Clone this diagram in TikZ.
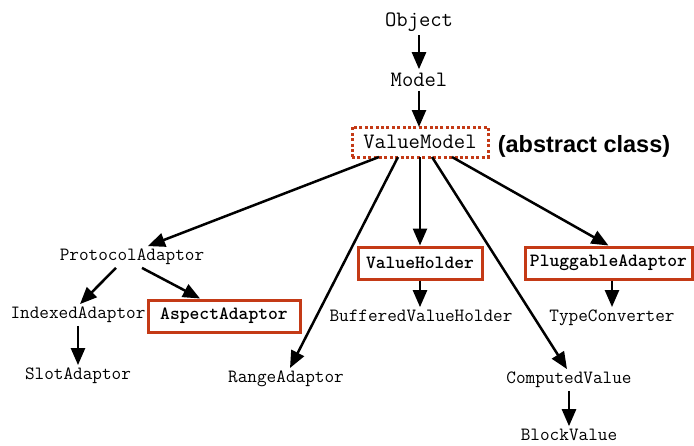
\documentclass[tikz,border=0pt]{standalone}
\usepackage{fontspec}
\usepackage{xcolor}
\usepackage{tikz}
\usetikzlibrary{arrows.meta, positioning}
\newfontfamily\labelsans{Liberation Sans}
\definecolor{boxred}{RGB}{196,58,22}

\begin{document}
\begin{tikzpicture}[
    x=1pt, y=-1pt,
    cls/.style={font=\ttfamily\fontsize{18.7}{20}\selectfont, inner sep=0pt, outer sep=3pt},
    topcls/.style={font=\ttfamily\fontsize{22}{24}\selectfont, inner sep=0pt, outer sep=4pt},
    hlbox/.style={cls, font=\ttfamily\bfseries\fontsize{18.7}{20}\selectfont, draw=boxred, line width=3pt, outer sep=1.5pt, minimum height=32pt},
    arrow/.style={-{Triangle[length=17pt,width=14pt]}, line width=2.5pt}
]
\useasboundingbox (0,0) rectangle (694,445);

\node[topcls] (object) at (419,22) {Object};
\node[topcls] (model) at (419,80) {Model};
\node[topcls, draw=boxred, line width=3pt, dash pattern=on 3pt off 2.4pt, minimum width=136pt, minimum height=30pt, outer sep=0pt] (valuemodel) at (420,142) {ValueModel};
\node[font=\labelsans\bfseries\fontsize{23.5}{26}\selectfont, inner sep=0pt] (abstract) at (584,146) {(abstract class)};

\node[cls] (protocol) at (132,257) {ProtocolAdaptor};
\node[cls] (indexed) at (78,315) {IndexedAdaptor};
\node[hlbox, minimum width=152pt] (aspect) at (224,316) {AspectAdaptor};
\node[cls] (slot) at (78,376) {SlotAdaptor};
\node[cls] (range) at (286,379) {RangeAdaptor};
\node[hlbox, minimum width=124pt] (valueholder) at (420,263) {ValueHolder};
\node[hlbox, minimum width=167pt] (pluggable) at (608.5,263) {PluggableAdaptor};
\node[cls] (buffered) at (421,316) {BufferedValueHolder};
\node[cls] (typeconv) at (612,318) {TypeConverter};
\node[cls] (computed) at (569,380) {ComputedValue};
\node[cls] (block) at (569,435) {BlockValue};

\draw[arrow] (object) -- (model);
\draw[arrow] (model) -- (model |- valuemodel.north);
\draw[arrow] ([xshift=-41pt]valuemodel.south) -- ([xshift=16pt]protocol.north);
\draw[arrow] ([xshift=-22pt]valuemodel.south) -- ([xshift=4pt]range.north);
\draw[arrow] (valuemodel) -- (valueholder);
\draw[arrow] ([xshift=12pt]valuemodel.south) -- ([xshift=-2pt]computed.north);
\draw[arrow] ([xshift=32pt]valuemodel.south) -- (pluggable.north);
\draw[arrow] ([xshift=-16pt]protocol.south) -- ([xshift=2pt]indexed.north);
\draw[arrow] ([xshift=10pt]protocol.south) -- ([xshift=-24pt]aspect.north);
\draw[arrow] (indexed) -- (slot);
\draw[arrow] (valueholder) -- (valueholder |- buffered.north);
\draw[arrow] (pluggable.south -| typeconv) -- (typeconv);
\draw[arrow] (computed) -- (block);
\end{tikzpicture}
\end{document}
